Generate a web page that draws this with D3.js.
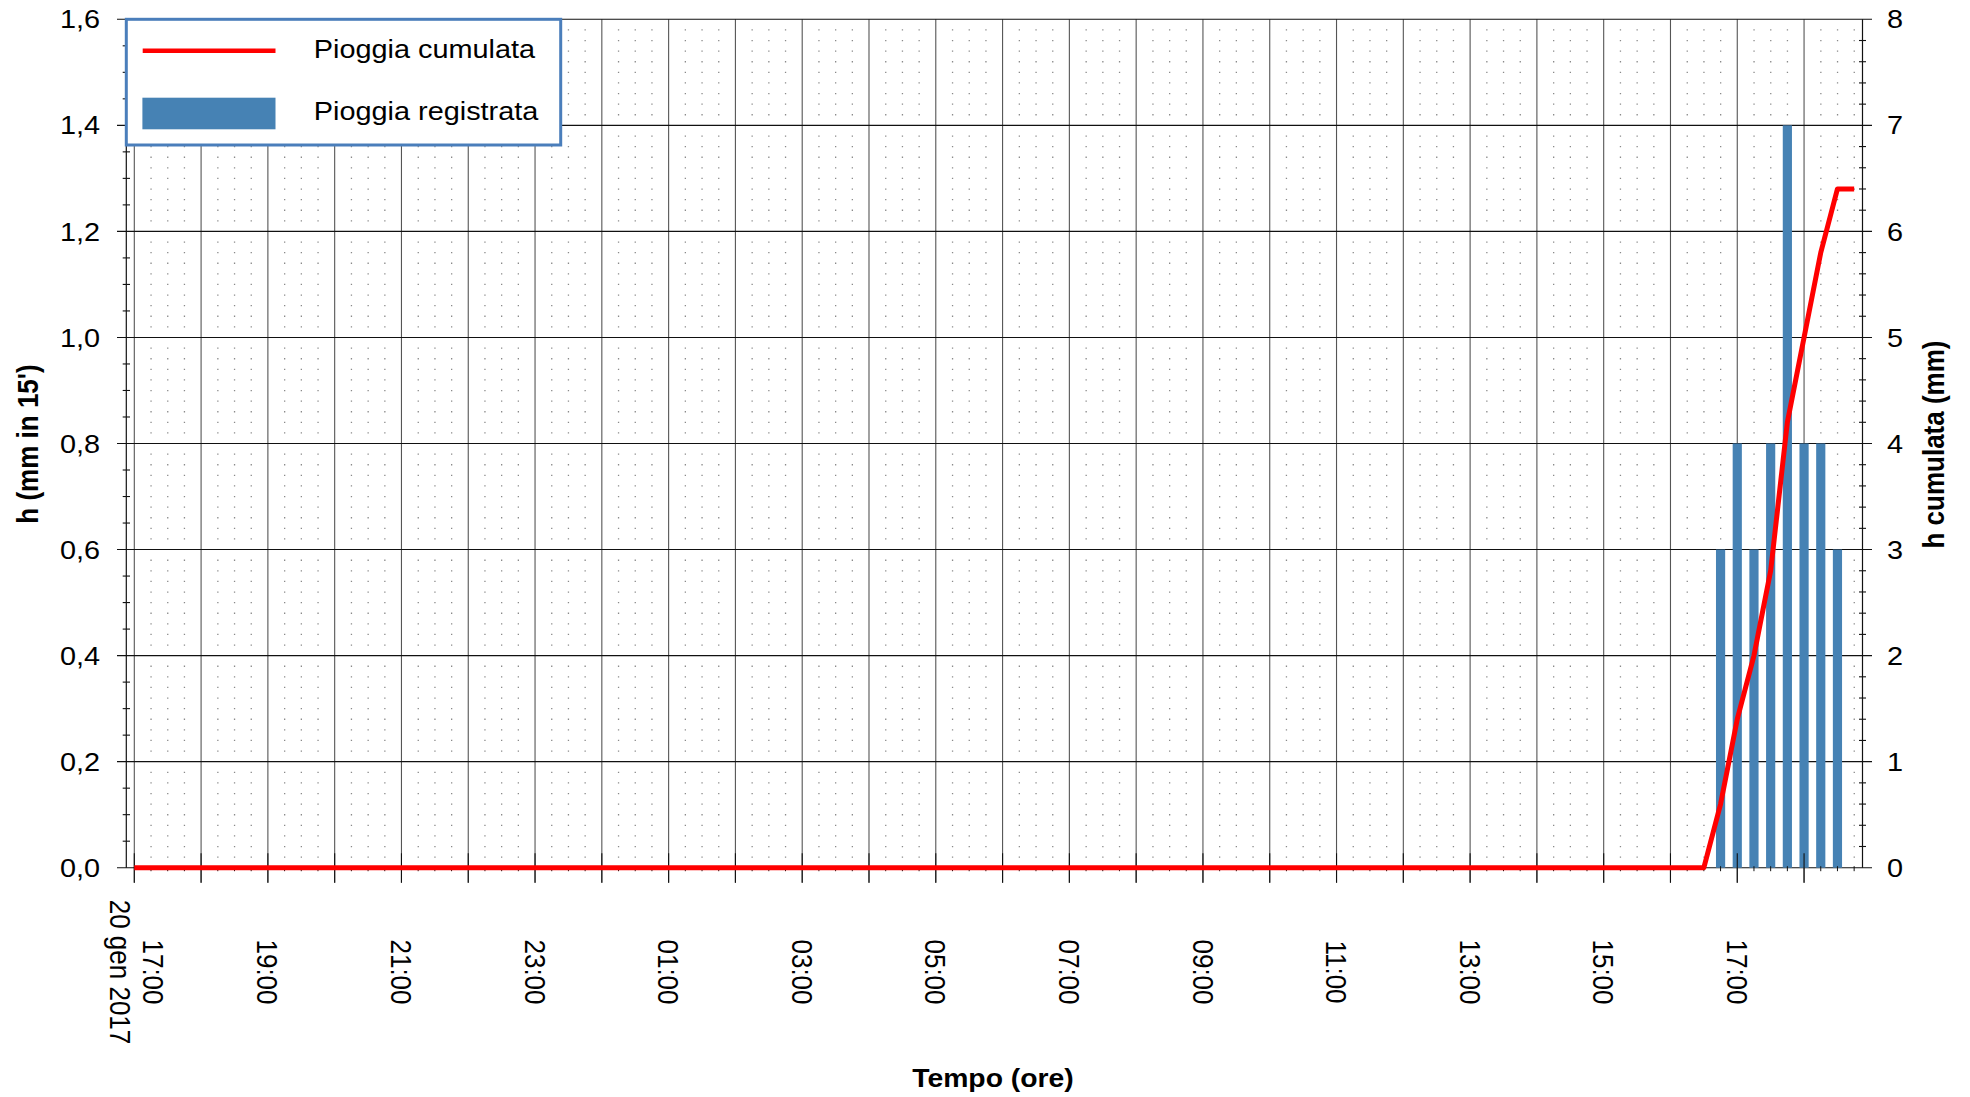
<!DOCTYPE html>
<html><head><meta charset="utf-8">
<script src="https://cdn.jsdelivr.net/npm/d3@7"></script>
<style>
body{margin:0;background:#fff}
svg{display:block;background:#fff}
text{font-family:"Liberation Sans",Arial,sans-serif;fill:#000}
</style>
</head><body>
<svg id="c" width="1970" height="1097"></svg>
<script>
// ---------------- DATA ----------------
const barTimes = ["2017-01-21T16:45","2017-01-21T17:00","2017-01-21T17:15","2017-01-21T17:30",
                  "2017-01-21T17:45","2017-01-21T18:00","2017-01-21T18:15","2017-01-21T18:30"];
const rainValues = [0.6, 0.8, 0.6, 0.8, 1.4, 0.8, 0.8, 0.6];

const cumTimes = ["2017-01-20T17:00","2017-01-21T16:30","2017-01-21T16:45","2017-01-21T17:00",
                  "2017-01-21T17:15","2017-01-21T17:30","2017-01-21T17:45","2017-01-21T18:00",
                  "2017-01-21T18:15","2017-01-21T18:30","2017-01-21T18:45"];
const cumValues = [0, 0, 0.6, 1.4, 2.0, 2.8, 4.2, 5.0, 5.8, 6.4, 6.4];

const xDomain = ["2017-01-20T17:00:00Z", "2017-01-21T18:52:30Z"];
const xTickTimes = ["2017-01-20T17:00","2017-01-20T19:00","2017-01-20T21:00","2017-01-20T23:00",
                    "2017-01-21T01:00","2017-01-21T03:00","2017-01-21T05:00","2017-01-21T07:00",
                    "2017-01-21T09:00","2017-01-21T11:00","2017-01-21T13:00","2017-01-21T15:00",
                    "2017-01-21T17:00"];
const xTickLabels = ["17:00","19:00","21:00","23:00","01:00","03:00","05:00","07:00",
                     "09:00","11:00","13:00","15:00","17:00"];
const firstDateLabel = "20 gen 2017";

const leftTicks = [0, 0.2, 0.4, 0.6, 0.8, 1.0, 1.2, 1.4, 1.6];
const leftTickLabels = ["0,0","0,2","0,4","0,6","0,8","1,0","1,2","1,4","1,6"];
const rightTicks = [0, 1, 2, 3, 4, 5, 6, 7, 8];
const rightTickLabels = ["0","1","2","3","4","5","6","7","8"];

const legendLabels = ["Pioggia cumulata", "Pioggia registrata"];
const xTitle = "Tempo (ore)";
const yLeftTitle = "h (mm in 15')";
const yRightTitle = "h cumulata (mm)";

// ---------------- SETUP ----------------
const parse = d3.utcParse("%Y-%m-%dT%H:%M");
const SX = 1.11; // horizontal text stretch of the reference
const svg = d3.select("#c");

const x = d3.scaleUtc().domain(xDomain.map(d => new Date(d))).range([134.3, 1862.5]);
const yL = d3.scaleLinear().domain([0, 1.6]).range([867.7, 19.3]);
const yR = d3.scaleLinear().domain([0, 8]).range([867.7, 19.3]);
const [t0, t1] = x.domain();
const yBase = yL(0), yTop = yL(1.6);
const xLeftEdge = 117, xRightEdge = 1872, leftAxisX = 126.3, rightAxisX = x.range()[1];

function stext(g, px, py, str, o = {}) {
  const t = g.append("text")
    .attr("transform", `translate(${px},${py}) scale(${o.sx || SX},1)` + (o.rot ? ` rotate(${o.rot})` : ""))
    .attr("font-size", o.size || 26)
    .attr("text-anchor", o.anchor || "start")
    .attr("font-weight", o.bold ? "bold" : "normal");
  if (o.dy) t.attr("dy", o.dy);
  if (str !== null) t.text(str);
  return t;
}

// ---------------- GRID ----------------
const quarters = d3.utcMinute.every(15).range(t0, t1).filter(d => d.getUTCMinutes() !== 0);
const hours = d3.utcHour.range(t0, t1);
const dotVals = d3.range(1, 80).filter(i => i % 10 !== 0).map(i => i * 0.02);

let dp = "";
quarters.forEach(q => {
  const qx = x(q);
  dotVals.forEach(v => { dp += `M${(qx - 0.6).toFixed(1)},${(yL(v) - 0.6).toFixed(1)}h1.3v1.3h-1.3z`; });
});
svg.append("path").attr("d", dp).attr("fill", "#8a8a8a");

svg.append("g").selectAll("line").data(hours).join("line")
  .attr("x1", d => x(d)).attr("x2", d => x(d))
  .attr("y1", yTop).attr("y2", yBase + 15)
  .attr("stroke", "#555").attr("stroke-width", 1.1);

svg.append("g").selectAll("line").data(leftTicks).join("line")
  .attr("x1", xLeftEdge).attr("x2", xRightEdge)
  .attr("y1", d => yL(d)).attr("y2", d => yL(d))
  .attr("stroke", "#111").attr("stroke-width", 1.1);

// ---------------- BARS ----------------
const bw = (x(d3.utcMinute.offset(t0, 15)) - x(t0)) * 0.55;
svg.append("g").selectAll("rect").data(barTimes.map((t, i) => ({t: parse(t), v: rainValues[i]}))).join("rect")
  .attr("x", d => x(d.t) - bw / 2).attr("width", bw)
  .attr("y", d => yL(d.v)).attr("height", d => yBase - yL(d.v))
  .attr("fill", "#4682b4");

// ---------------- AXES ----------------
const ax = svg.append("g").attr("stroke", "#111");
ax.append("line").attr("x1", leftAxisX).attr("x2", leftAxisX).attr("y1", yTop).attr("y2", yBase).attr("stroke-width", 1.2);
ax.append("line").attr("x1", rightAxisX).attr("x2", rightAxisX).attr("y1", yTop).attr("y2", yBase).attr("stroke-width", 1.2);
ax.selectAll(".hm").data(hours).join("line")
  .attr("x1", d => x(d)).attr("x2", d => x(d)).attr("y1", yBase - 14.4).attr("y2", yBase + 15).attr("stroke-width", 1.1);
ax.selectAll(".qm").data(quarters).join("line")
  .attr("x1", d => x(d)).attr("x2", d => x(d)).attr("y1", yBase - 1.5).attr("y2", yBase + 3.5).attr("stroke-width", 1);
const leftMinor = d3.range(1, 32).filter(i => i % 4 !== 0).map(i => i * 0.05);
ax.selectAll(".lm").data(leftMinor).join("line")
  .attr("x1", 122.7).attr("x2", 130).attr("y1", d => yL(d)).attr("y2", d => yL(d)).attr("stroke-width", 1.1);
const rightMinor = d3.range(1, 40).filter(i => i % 5 !== 0).map(i => i * 0.2);
ax.selectAll(".rm").data(rightMinor).join("line")
  .attr("x1", rightAxisX - 3.5).attr("x2", rightAxisX + 3.5).attr("y1", d => yR(d)).attr("y2", d => yR(d)).attr("stroke-width", 1.1);

// ---------------- LINE ----------------
const cum = cumTimes.map((t, i) => ({t: parse(t), v: cumValues[i]}));
svg.append("path").datum(cum)
  .attr("d", d3.line().x(d => x(d.t)).y(d => yR(d.v)))
  .attr("fill", "none").attr("stroke", "#ff0000").attr("stroke-width", 5)
  .attr("stroke-linejoin", "round");

// ---------------- LABELS ----------------
const lab = svg.append("g");
leftTicks.forEach((v, i) => stext(lab, 100, yL(v), leftTickLabels[i], {anchor: "end", dy: "0.35em"}));
rightTicks.forEach((v, i) => stext(lab, 1887, yR(v), rightTickLabels[i], {anchor: "start", dy: "0.35em"}));

xTickTimes.forEach((t, i) => {
  const tx = x(parse(t));
  if (i === 0) {
    const el = stext(lab, tx, 972, null, {anchor: "middle", rot: 90});
    el.append("tspan").attr("x", 0).attr("dy", "-0.29em").text(xTickLabels[i]);
    el.append("tspan").attr("x", 0).attr("dy", "1.13em").text(firstDateLabel);
  } else {
    stext(lab, tx, 972, xTickLabels[i], {anchor: "middle", rot: 90, dy: "0.36em"});
  }
});

stext(lab, 993, 1086.7, xTitle, {anchor: "middle", bold: true, sx: 1.09});
stext(lab, 38, 444, yLeftTitle, {anchor: "middle", bold: true, rot: -90, sx: 1.1});
stext(lab, 1944, 444.5, yRightTitle, {anchor: "middle", bold: true, rot: -90, sx: 1.1});

// ---------------- LEGEND ----------------
const lg = svg.append("g");
lg.append("rect").attr("x", leftAxisX).attr("y", yTop).attr("width", 560.7 - leftAxisX).attr("height", 145 - yTop)
  .attr("fill", "#fff").attr("stroke", "#4a7ebb").attr("stroke-width", 3);
lg.append("line").attr("x1", 142.7).attr("x2", 275.5).attr("y1", 50.7).attr("y2", 50.7)
  .attr("stroke", "#ff0000").attr("stroke-width", 4.5);
lg.append("rect").attr("x", 142.4).attr("y", 97.7).attr("width", 133.1).attr("height", 31.6).attr("fill", "#4682b4");
stext(lg, 313.8, 58.3, legendLabels[0]);
stext(lg, 313.8, 119.5, legendLabels[1]);
</script>
</body></html>
